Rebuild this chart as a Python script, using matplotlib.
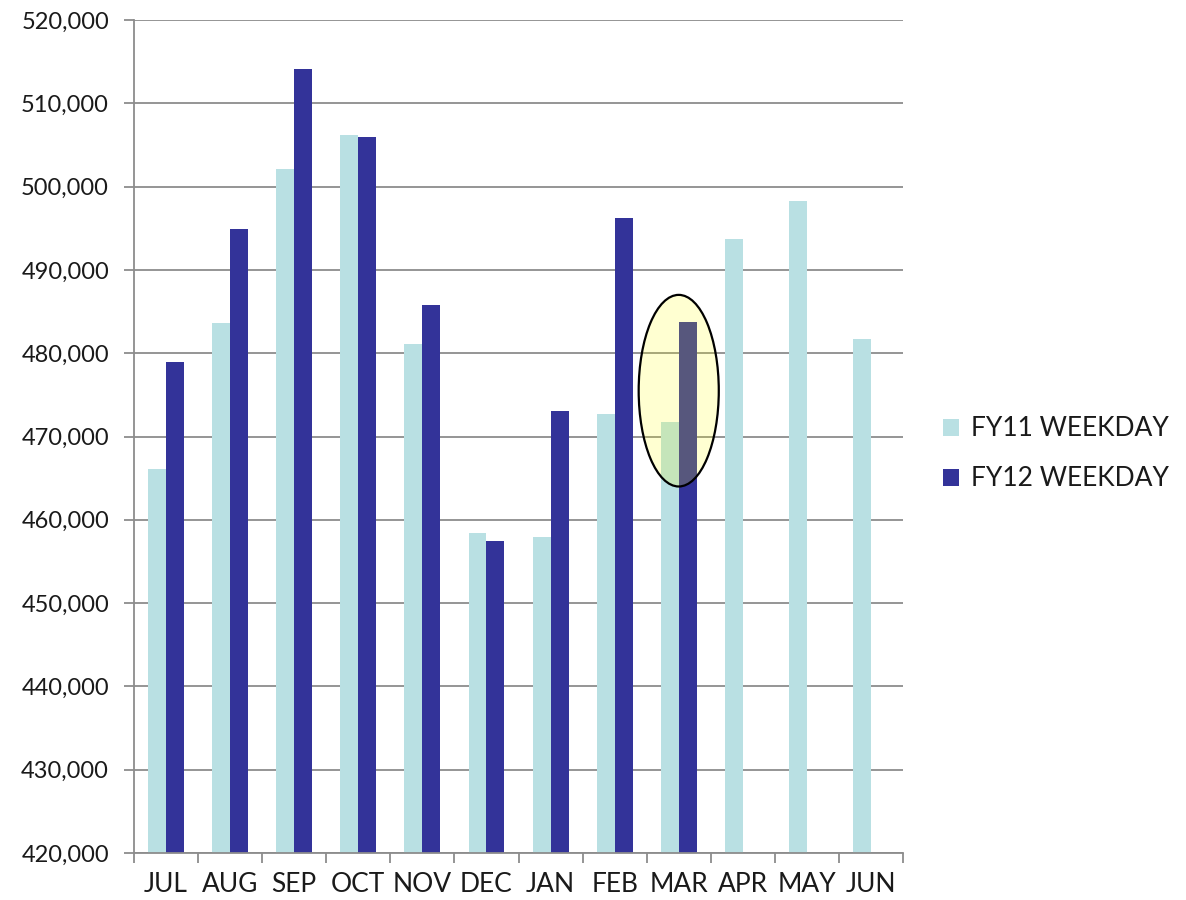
import matplotlib

matplotlib.use("Agg")
import matplotlib.pyplot as plt
import numpy as np
from matplotlib.patches import Ellipse
from matplotlib.ticker import FuncFormatter

months = ["JUL", "AUG", "SEP", "OCT", "NOV", "DEC", "JAN", "FEB", "MAR", "APR", "MAY", "JUN"]
fy11 = [466100, 483600, 502100, 506200, 481100, 458400, 457900, 472700, 471800, 493700, 498300, 481700]
fy12 = [479000, 494900, 514100, 506000, 485800, 457400, 473100, 496200, 483700]

LIGHT = "#B9E0E3"
DARK = "#333399"
GRID = "#8C8C8C"
TEXT = "#1a1a1a"

plt.rcParams["font.family"] = ["Lato", "DejaVu Sans"]

fig = plt.figure(figsize=(11.86, 9), dpi=100)
ax = fig.add_axes([0.113, 0.0522, 0.6484, 0.9256])

x = np.arange(len(months))
w = 0.28
ax.bar(x[:len(fy11)] - w / 2, fy11, w, color=LIGHT, label="FY11 WEEKDAY", zorder=2)
ax.bar(x[:len(fy12)] + w / 2, fy12, w, color=DARK, label="FY12 WEEKDAY", zorder=2)

ax.set_ylim(420000, 520000)
ax.set_xlim(-0.5, len(months) - 0.5)
ax.set_yticks(np.arange(420000, 520001, 10000))
ax.yaxis.set_major_formatter(FuncFormatter(lambda v, _: f"{int(v):,}"))
ax.grid(axis="y", color=GRID, linewidth=1.3, zorder=1)

# month labels centred, tick marks between months
ax.set_xticks(x)
ax.set_xticklabels(months)
ax.set_xticks(np.arange(-0.5, len(months)), minor=True)
ax.tick_params(axis="x", which="major", length=0, pad=14, labelsize=19, labelcolor=TEXT)
ax.tick_params(axis="x", which="minor", length=7, width=1.3, color=GRID)
ax.tick_params(axis="y", length=7, width=1.3, color=GRID, labelsize=17, labelcolor=TEXT, pad=11)

for side in ("top", "right"):
    ax.spines[side].set_visible(False)
for side in ("left", "bottom"):
    ax.spines[side].set_color(GRID)
    ax.spines[side].set_linewidth(1.3)

# highlight around March
ax.add_patch(Ellipse((8.0, 475500), 1.25, 23000, facecolor=(1, 1, 0, 0.18),
                     edgecolor="black", linewidth=1.6, zorder=3))

leg = fig.legend(loc="center left", bbox_to_anchor=(0.795, 0.4956), frameon=False,
                 fontsize=19, handlelength=0.6, handleheight=0.6, handletextpad=0.45,
                 labelspacing=0.95, borderaxespad=0, borderpad=0)
for t in leg.get_texts():
    t.set_color(TEXT)

fig.savefig("out.png", dpi=100)
